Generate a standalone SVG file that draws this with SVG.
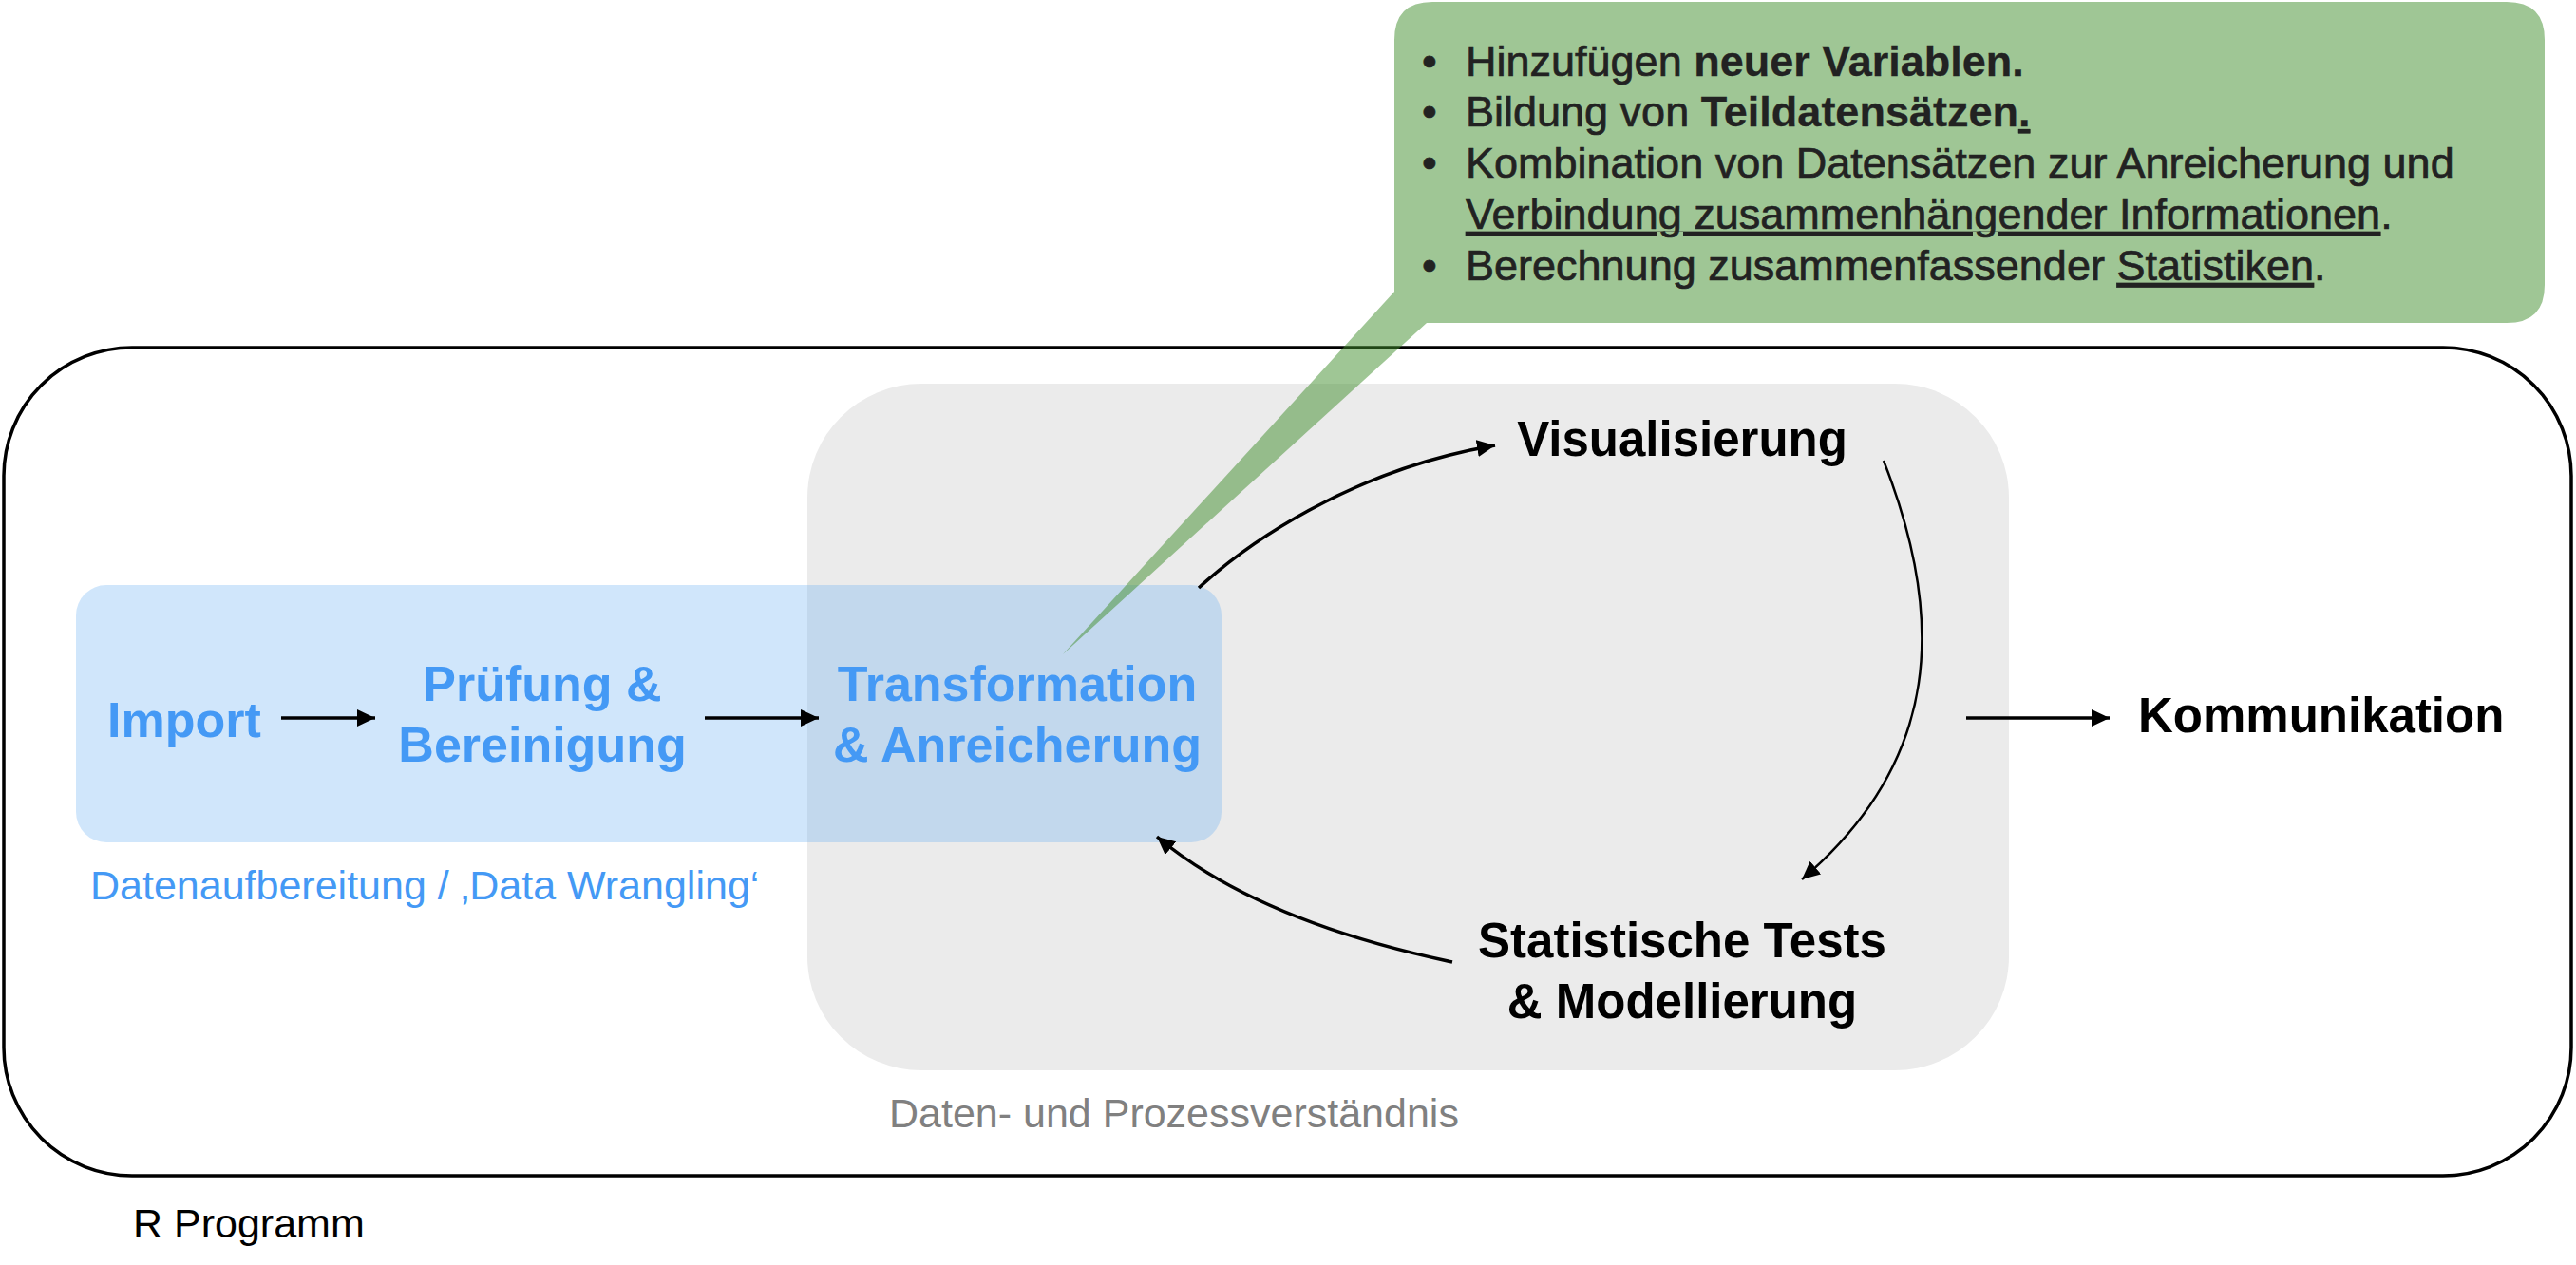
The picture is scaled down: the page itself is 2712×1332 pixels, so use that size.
<svg xmlns="http://www.w3.org/2000/svg" width="2712" height="1332" viewBox="0 0 2712 1332">
  <style>
    text { font-family: "Liberation Sans", Arial, Helvetica, sans-serif; }
    .blue { fill: #4499f5; font-weight: bold; font-size: 52px; }
    .black { fill: #000; font-weight: bold; font-size: 51px; }
    .note { fill: #222; font-size: 45px; stroke: #222; stroke-width: 0.7; }
    .b { font-weight: bold; stroke-width: 0.3; }
    .u { text-decoration: underline; text-decoration-skip-ink: none; }
    .conn { fill: none; stroke: #000; stroke-width: 3.5; }
  </style>
  <defs>
    <marker id="ah" markerUnits="userSpaceOnUse" markerWidth="20" markerHeight="20" refX="19" refY="9" orient="auto">
      <path d="M0,0 L19,9 L0,18 Z" fill="#000"/>
    </marker>
  </defs>
  <rect width="2712" height="1332" fill="#fff"/>

  <g id="r-programm">
    <rect x="4" y="366" width="2703" height="872" rx="135" ry="135" fill="none" stroke="#000" stroke-width="3.5"/>
    <text x="140" y="1303" font-size="43" fill="#000">R Programm</text>
  </g>

  <g id="prozessverstaendnis">
    <rect x="850" y="404" width="1265" height="723" rx="120" ry="120" fill="#ebebeb"/>
    <text x="936" y="1187" font-size="43" fill="#808080">Daten- und Prozessverständnis</text>
  </g>

  <g id="datenaufbereitung">
    <rect x="80" y="616" width="1206" height="271" rx="32" ry="32" fill="rgb(98,172,242)" fill-opacity="0.3"/>
    <text x="95" y="947" font-size="43" fill="#4499f5">Datenaufbereitung / ‚Data Wrangling‘</text>
  </g>

  <g id="import">
    <text class="blue" x="113" y="776">Import</text>
  </g>
  <g id="pruefung">
    <text class="blue" text-anchor="middle" x="571" y="738">Prüfung &amp;</text>
    <text class="blue" text-anchor="middle" x="571" y="802">Bereinigung</text>
  </g>
  <g id="transformation">
    <text class="blue" text-anchor="middle" x="1071" y="738">Transformation</text>
    <text class="blue" text-anchor="middle" x="1071" y="802">&amp; Anreicherung</text>
  </g>
  <g id="visualisierung">
    <text class="black" text-anchor="middle" x="1771" y="480">Visualisierung</text>
  </g>
  <g id="statistik">
    <text class="black" text-anchor="middle" x="1771" y="1008">Statistische Tests</text>
    <text class="black" text-anchor="middle" x="1771" y="1072">&amp; Modellierung</text>
  </g>
  <g id="kommunikation">
    <text class="black" x="2251" y="771">Kommunikation</text>
  </g>

  <g id="connectors">
    <path class="conn" d="M296,756 H395" marker-end="url(#ah)"/>
    <path class="conn" d="M742,756 H862" marker-end="url(#ah)"/>
    <path class="conn" d="M2070,756 H2221" marker-end="url(#ah)"/>
    <path class="conn" d="M1262,619 C1310,575 1420,495 1574,469" marker-end="url(#ah)"/>
    <path class="conn" style="stroke-width:2.5" d="M1983,485 C2048,650 2045,800 1897,926" marker-end="url(#ah)"/>
    <path class="conn" d="M1529,1013 C1420,990 1300,950 1218,881" marker-end="url(#ah)"/>
  </g>

  <g id="callout">
    <path d="M1508,2 H2639 Q2679,2 2679,42 V300 Q2679,340 2639,340 H1502 L1119,689 L1468,307 V42 Q1468,2 1508,2 Z" fill="rgb(63,141,43)" fill-opacity="0.5"/>
    <text class="note" x="1497" y="80">•</text>
    <text class="note" x="1543" y="80">Hinzufügen <tspan class="b">neuer Variablen.</tspan></text>
    <text class="note" x="1497" y="133">•</text>
    <text class="note" x="1543" y="133">Bildung von <tspan class="b">Teildatensätzen</tspan><tspan class="b u">.</tspan></text>
    <text class="note" x="1497" y="187">•</text>
    <text class="note" x="1543" y="187">Kombination von Datensätzen zur Anreicherung und</text>
    <text class="note" x="1543" y="241"><tspan class="u">Verbindung zusammenhängender Informationen</tspan>.</text>
    <text class="note" x="1497" y="295">•</text>
    <text class="note" x="1543" y="295">Berechnung zusammenfassender <tspan class="u">Statistiken</tspan>.</text>
  </g>
</svg>
